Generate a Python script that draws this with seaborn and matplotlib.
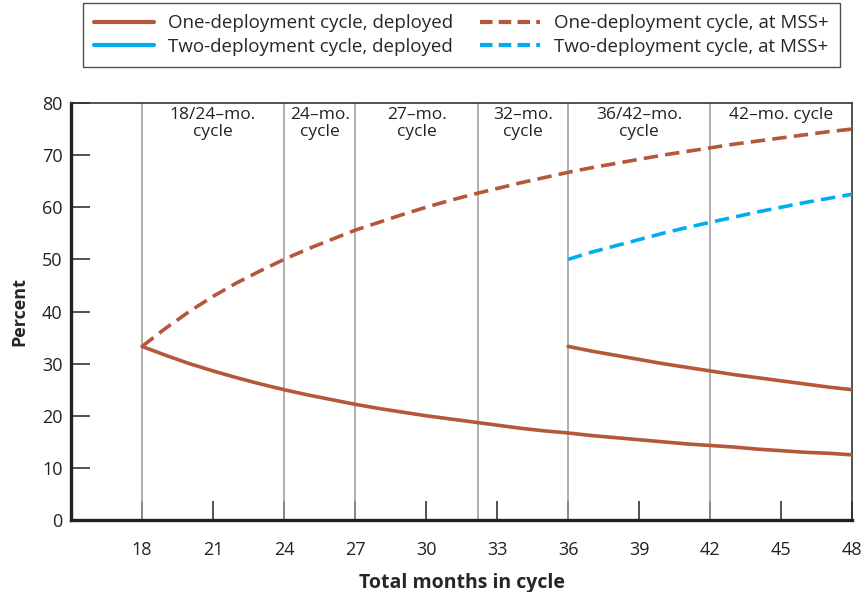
import pandas as pd
import seaborn as sns
import matplotlib.pyplot as plt
from matplotlib.lines import Line2D

# values
months_one = [18, 19, 20, 21, 22, 23, 24, 25, 26, 27, 28, 29, 30, 31, 32, 33,
              34, 35, 36, 37, 38, 39, 40, 41, 42, 43, 44, 45, 46, 47, 48]
one_deployed = [33.3, 31.6, 30.0, 28.6, 27.3, 26.1, 25.0, 24.0, 23.1, 22.2, 21.4,
                20.7, 20.0, 19.4, 18.8, 18.2, 17.6, 17.1, 16.7, 16.2, 15.8, 15.4,
                15.0, 14.6, 14.3, 14.0, 13.6, 13.3, 13.0, 12.8, 12.5]
one_mss = [33.3, 36.8, 40.0, 42.9, 45.5, 47.8, 50.0, 52.0, 53.8, 55.6, 57.1,
           58.6, 60.0, 61.3, 62.5, 63.6, 64.7, 65.7, 66.7, 67.6, 68.4, 69.2,
           70.0, 70.7, 71.4, 72.1, 72.7, 73.3, 73.9, 74.5, 75.0]
months_two = [36, 37, 38, 39, 40, 41, 42, 43, 44, 45, 46, 47, 48]
two_deployed = [33.3, 32.4, 31.6, 30.8, 30.0, 29.3, 28.6, 27.9, 27.3, 26.7, 26.1, 25.5, 25.0]
two_mss = [50.0, 51.4, 52.6, 53.8, 55.0, 56.1, 57.1, 58.1, 59.1, 60.0, 60.9, 61.7, 62.5]

cycle_bounds = [18, 24, 27, 32.2, 36, 42]
cycle_labels = ['18/24\u2013mo.\ncycle', '24\u2013mo.\ncycle', '27\u2013mo.\ncycle',
                '32\u2013mo.\ncycle', '36/42\u2013mo.\ncycle', '42\u2013mo. cycle']

BROWN = '#B5573A'
BLUE = '#00AEEF'

sns.set_style('white')
plt.rcParams['font.family'] = ['Open Sans', 'DejaVu Sans']

fig = plt.figure(figsize=(8.68, 5.92), dpi=100)
ax = fig.add_axes([0.0818, 0.1216, 0.9, 0.7044])

for b in cycle_bounds:
    ax.axvline(b, color='#9a9a9a', lw=1.1, zorder=1)

dash = (4, 2)
sns.lineplot(x=months_one, y=one_deployed, color=BROWN, lw=2.6, ax=ax, zorder=3)
sns.lineplot(x=months_one, y=one_mss, color=BROWN, lw=2.6, ax=ax, zorder=3,
             linestyle=(0, dash))
sns.lineplot(x=months_two, y=two_deployed, color=BROWN, lw=2.6, ax=ax, zorder=3)
sns.lineplot(x=months_two, y=two_mss, color=BLUE, lw=2.6, ax=ax, zorder=3,
             linestyle=(0, dash))

# cycle labels between the vertical lines
edges = cycle_bounds + [48]
for i, lab in enumerate(cycle_labels):
    xm = (edges[i] + edges[i + 1]) / 2
    ax.text(xm, 79.2, lab, ha='center', va='top', fontsize=12.5, color='#222222',
            linespacing=1.05)

ax.set_xlim(15, 48)
ax.set_ylim(0, 80)
ax.set_xticks(range(18, 49, 3))
ax.set_yticks(range(0, 81, 10))
ax.tick_params(direction='in', length=14, width=1.1, labelsize=13,
               colors='#222222', pad=15, bottom=True, left=True)
ax.tick_params(axis='y', pad=6)

for s in ['left', 'bottom']:
    ax.spines[s].set_linewidth(2.4)
    ax.spines[s].set_color('#222222')
for s in ['top', 'right']:
    ax.spines[s].set_linewidth(1.2)
    ax.spines[s].set_color('#333333')

ax.set_xlabel('Total months in cycle', fontsize=14, fontweight='bold', labelpad=10)
ax.set_ylabel('Percent', fontsize=13, fontweight='bold', labelpad=10)

handles = [
    Line2D([], [], color=BROWN, lw=3),
    Line2D([], [], color=BLUE, lw=3),
    Line2D([], [], color=BROWN, lw=3, linestyle=(0, (3, 1.5))),
    Line2D([], [], color=BLUE, lw=3, linestyle=(0, (3, 1.5))),
]
labels = ['One-deployment cycle, deployed', 'Two-deployment cycle, deployed',
          'One-deployment cycle, at MSS+', 'Two-deployment cycle, at MSS+']
leg = fig.legend(handles, labels, loc='upper left', bbox_to_anchor=(83 / 868, 1 - 3 / 592),
                 ncol=2, frameon=True, fancybox=False, fontsize=13.5,
                 handlelength=3.2, handletextpad=0.75, columnspacing=1.4,
                 borderaxespad=0, borderpad=0.6, labelspacing=0.3)
leg.get_frame().set_edgecolor('#222222')
leg.get_frame().set_linewidth(1.0)

fig.savefig('out.png', dpi=100)
